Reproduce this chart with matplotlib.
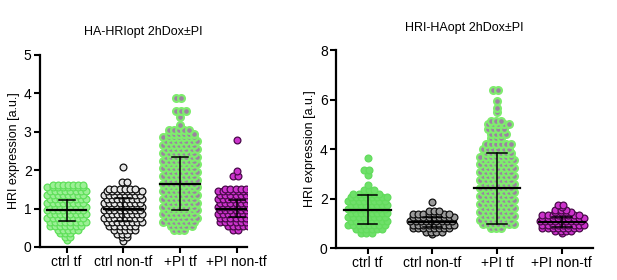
import numpy as np
import matplotlib.pyplot as plt

plt.rcParams['font.family'] = ['Liberation Sans', 'DejaVu Sans']

groups = ['ctrl tf', 'ctrl non-tf', '+PI tf', '+PI non-tf']

# left panel (HA-HRIopt): row value -> number of cells in that row
a_ctrl_tf_y = [0.17, 0.27, 0.36, 0.45, 0.55, 0.65, 0.75, 0.85, 0.95, 1.05, 1.15, 1.25, 1.35, 1.45, 1.55, 1.62]
a_ctrl_tf_n = [1, 2, 3, 5, 7, 8, 8, 8, 8, 8, 8, 8, 8, 8, 8, 7]
a_ctrl_non_y = [0.15, 0.25, 0.35, 0.45, 0.55, 0.65, 0.75, 0.85, 0.95, 1.05, 1.15, 1.25, 1.35, 1.45, 1.52, 1.70, 2.07]
a_ctrl_non_n = [1, 2, 3, 5, 6, 8, 8, 8, 8, 8, 8, 8, 8, 8, 6, 2, 1]
a_pi_tf_y = [0.45, 0.55, 0.65, 0.75, 0.85, 0.95, 1.05, 1.15, 1.25, 1.35, 1.45, 1.55, 1.65, 1.75, 1.85,
             1.95, 2.05, 2.15, 2.25, 2.35, 2.45, 2.55, 2.65, 2.75, 2.85, 2.95, 3.05, 3.18, 3.37, 3.55, 3.88]
a_pi_tf_n = [3, 5, 7, 7, 7, 7, 7, 7, 7, 7, 7, 7, 7, 7, 7, 7, 7, 7, 7, 7, 7, 7, 7, 7, 7, 6, 5, 1, 1, 3, 2]
a_pi_non_y = [0.45, 0.55, 0.65, 0.75, 0.85, 0.95, 1.05, 1.15, 1.25, 1.35, 1.45, 1.52, 1.85, 1.97, 2.78]
a_pi_non_n = [2, 5, 7, 8, 8, 8, 8, 8, 8, 8, 8, 6, 2, 1, 1]
a_mean = [0.95, 0.98, 1.65, 1.00]
a_sd = [0.28, 0.30, 0.68, 0.22]

# right panel (HRI-HAopt)
b_ctrl_tf_y = [0.62, 0.78, 0.94, 1.10, 1.26, 1.42, 1.58, 1.74, 1.90, 2.06, 2.20, 2.35, 2.55, 2.95, 3.15, 3.65]
b_ctrl_tf_n = [3, 6, 8, 8, 8, 8, 8, 8, 8, 8, 6, 3, 1, 1, 2, 1]
b_ctrl_non_y = [0.55, 0.66, 0.80, 0.95, 1.10, 1.25, 1.38, 1.50, 1.85]
b_ctrl_non_n = [1, 4, 8, 9, 9, 9, 8, 3, 1]
b_pi_tf_y = [0.82, 0.98, 1.14, 1.30, 1.46, 1.62, 1.78, 1.94, 2.10, 2.26, 2.42, 2.58, 2.74, 2.90, 3.06,
             3.22, 3.38, 3.54, 3.70, 3.86, 4.02, 4.20, 4.45, 4.62, 4.80, 5.00, 5.15, 5.50, 5.65, 5.95, 6.38]
b_pi_tf_n = [3, 7, 7, 7, 7, 7, 7, 7, 7, 7, 7, 7, 7, 7, 7, 7, 7, 7, 7, 6, 6, 6, 3, 4, 4, 5, 3, 1, 1, 1, 2]
b_pi_non_y = [0.60, 0.70, 0.82, 0.95, 1.08, 1.20, 1.32, 1.45, 1.55, 1.66, 1.73]
b_pi_non_n = [1, 4, 8, 9, 9, 9, 8, 4, 3, 1, 2]
b_mean = [1.55, 1.05, 2.42, 1.05]
b_sd = [0.58, 0.20, 1.43, 0.20]

a_face = ['#9cf096', '#e6e6e6', '#9c82a2', '#cc33cc']
a_edge = ['#5fe05a', '#111111', '#7fec6e', '#4a0a4a']
b_face = ['#6fe06a', '#9a9a9a', '#9c82a2', '#cc33cc']
b_edge = ['#62dc5c', '#111111', '#7fec6e', '#4a0a4a']
edge_w = [0.9, 0.9, 1.6, 0.9]


def swarm(ax, pos, ys, ns, dx, face, edge, lw):
    xs, vs = [], []
    for r, (y, n) in enumerate(zip(ys, ns)):
        shift = 0.25 * dx if r % 2 else -0.25 * dx
        if n == 1:
            shift = 0
        for i in range(n):
            xs.append(pos + (i - (n - 1) / 2) * dx + shift)
            vs.append(y)
    ax.scatter(xs, vs, s=24, c=face, edgecolors=edge, linewidths=lw, zorder=2)


def panel(ax, rows, faces, edges, dx, means, sds, hw, cw, top, step, title):
    for k, (ys, ns) in enumerate(rows):
        swarm(ax, k, ys, ns, dx, faces[k], edges[k], edge_w[k])
        m, s = means[k], sds[k]
        ax.plot([k - hw, k + hw], [m, m], color='black', lw=1.6, zorder=3)
        ax.plot([k, k], [m - s, m + s], color='black', lw=1.1, zorder=3)
        for v in (m - s, m + s):
            ax.plot([k - cw, k + cw], [v, v], color='black', lw=1.1, zorder=3)
    ax.set_ylim(0, top)
    ax.set_yticks(np.arange(0, top + 0.1, step))
    ax.set_xticks(range(4))
    ax.set_xticklabels(groups)
    ax.spines['top'].set_visible(False)
    ax.spines['right'].set_visible(False)
    for sp in ('left', 'bottom'):
        ax.spines[sp].set_linewidth(1.6)
    ax.tick_params(direction='out', length=4, width=1.5, labelsize=10, pad=2)
    ax.set_ylabel('HRI expression [a.u.]', fontsize=9, labelpad=3)
    ax.set_title(title, fontsize=9, pad=14)


fig = plt.figure(figsize=(6.17, 2.80), dpi=100)
ax1 = fig.add_axes([0.0648, 0.118, 0.3355, 0.686])
ax2 = fig.add_axes([0.5446, 0.114, 0.4164, 0.707])

panel(ax1, [(a_ctrl_tf_y, a_ctrl_tf_n), (a_ctrl_non_y, a_ctrl_non_n),
            (a_pi_tf_y, a_pi_tf_n), (a_pi_non_y, a_pi_non_n)],
      a_face, a_edge, 0.09, a_mean, a_sd, 0.35, 0.14, 5, 1, 'HA-HRIopt 2hDox\u00b1PI')
ax1.set_xlim(-0.47, 3.18)

panel(ax2, [(b_ctrl_tf_y, b_ctrl_tf_n), (b_ctrl_non_y, b_ctrl_non_n),
            (b_pi_tf_y, b_pi_tf_n), (b_pi_non_y, b_pi_non_n)],
      b_face, b_edge, 0.08, b_mean, b_sd, 0.36, 0.15, 8, 2, 'HRI-HAopt 2hDox\u00b1PI')
ax2.set_xlim(-0.49, 3.48)

fig.savefig('out.png', dpi=100)
